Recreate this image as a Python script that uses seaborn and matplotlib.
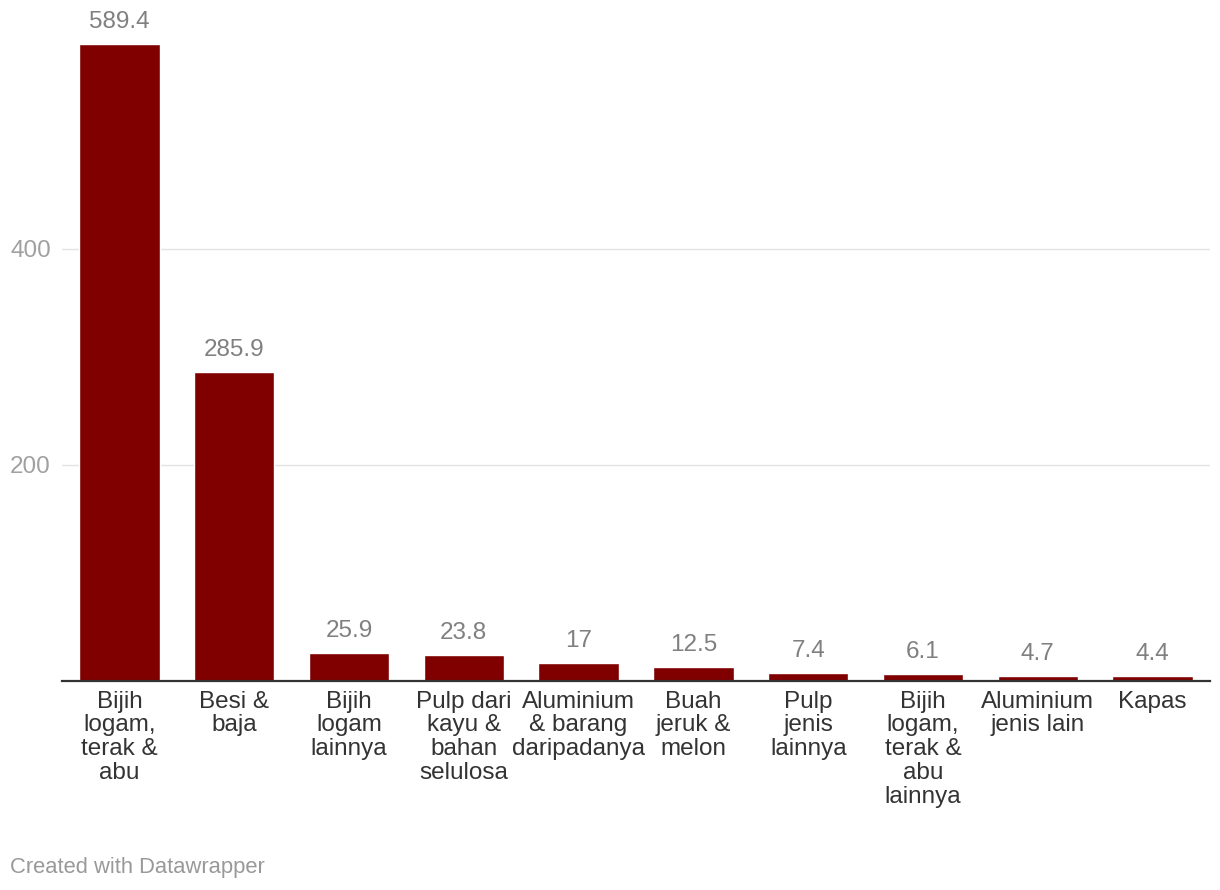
import matplotlib
matplotlib.use('agg')
import matplotlib.pyplot as plt
import seaborn as sns
import pandas as pd

# data
categories = ["Bijih\nlogam,\nterak &\nabu", "Besi &\nbaja", "Bijih\nlogam\nlainnya",
              "Pulp dari\nkayu &\nbahan\nselulosa", "Aluminium\n& barang\ndaripadanya",
              "Buah\njeruk &\nmelon", "Pulp\njenis\nlainnya", "Bijih\nlogam,\nterak &\nabu\nlainnya",
              "Aluminium\njenis lain", "Kapas"]
values = [589.4, 285.9, 25.9, 23.8, 17, 12.5, 7.4, 6.1, 4.7, 4.4]
value_labels = ["589.4", "285.9", "25.9", "23.8", "17", "12.5", "7.4", "6.1", "4.7", "4.4"]
yticks = [200, 400]

df = pd.DataFrame({"cat": categories, "val": values})

sns.set_style("white")
plt.rcParams['font.family'] = ['Liberation Sans', 'DejaVu Sans']

fig = plt.figure(figsize=(12.2, 8.9), dpi=100)
ax = fig.add_axes([62 / 1220, (890 - 681) / 890, 1148 / 1220, 661 / 890])

sns.barplot(data=df, x="cat", y="val", color="#800000", width=0.7, saturation=1, ax=ax, zorder=3)

ax.set_xlim(-0.5, 9.5)
ax.set_ylim(0, 612)
ax.set_xlabel("")
ax.set_ylabel("")

for s in ["top", "right", "left"]:
    ax.spines[s].set_visible(False)
ax.spines["bottom"].set_color("#333333")
ax.spines["bottom"].set_linewidth(1.6)
ax.spines["bottom"].set_zorder(4)

ax.set_yticks(yticks)
ax.set_yticklabels([str(t) for t in yticks], color="#a0a0a0", fontsize=17.5)
ax.tick_params(axis="y", length=0, pad=8)
ax.yaxis.grid(True, color="#e2e2e2", linewidth=1)
ax.set_axisbelow(True)

ax.tick_params(axis="x", length=0, pad=7)
for lab in ax.get_xticklabels():
    lab.set_fontsize(17.5)
    lab.set_color("#333333")
    lab.set_linespacing(1.1)
    lab.set_verticalalignment("top")

for i, (v, t) in enumerate(zip(values, value_labels)):
    ax.annotate(t, (i, v), xytext=(0, 8), textcoords="offset points",
                ha="center", va="bottom", fontsize=17.5, color="#808080")

fig.text(10 / 1220, 1 - 867 / 890, "Created with Datawrapper", fontsize=15.8,
         color="#999999", ha="left", va="center")

fig.savefig("out.png", dpi=100)
